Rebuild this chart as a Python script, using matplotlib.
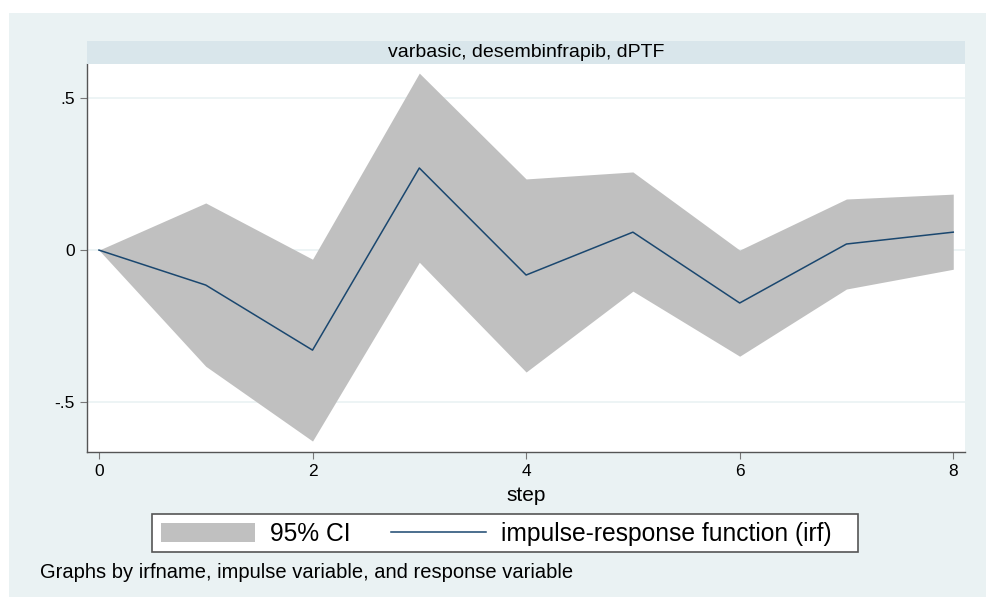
import matplotlib.pyplot as plt
from matplotlib.patches import Rectangle
from matplotlib.lines import Line2D
from matplotlib.patches import Patch

plt.rcParams['font.family'] = ['Liberation Sans', 'DejaVu Sans']

# IRF values
steps = [0, 1, 2, 3, 4, 5, 6, 7, 8]
irf = [0.0, -0.115, -0.329, 0.270, -0.082, 0.059, -0.174, 0.020, 0.059]
upper = [0.0, 0.155, -0.030, 0.582, 0.234, 0.257, 0.0, 0.168, 0.184]
lower = [0.0, -0.382, -0.628, -0.040, -0.401, -0.135, -0.349, -0.128, -0.063]

yticks = [-0.5, 0, 0.5]
ytick_labels = ['-.5', '0', '.5']
xticks = [0, 2, 4, 6, 8]

W, H = 986, 597
fig = plt.figure(figsize=(W / 100, H / 100), dpi=100)
fig.patch.set_facecolor('white')

# outer Stata-style background
fig.add_artist(Rectangle((9 / W, 0), (W - 9) / W, (H - 13) / H,
                         transform=fig.transFigure, facecolor='#eaf2f3',
                         edgecolor='none', zorder=0))

# plot area in pixels: left 87, right 965, top 64, bottom 452
ax = fig.add_axes([87 / W, 1 - 452 / H, (965 - 87) / W, (452 - 64) / H])
ax.set_facecolor('white')

ax.fill_between(steps, lower, upper, color='#c0c0c0', linewidth=0, zorder=2)
ax.plot(steps, irf, color='#1a476f', linewidth=1.1, zorder=3)

ax.set_xlim(-0.112, 8.11)
ax.set_ylim(-0.664, 0.612)
ax.set_yticks(yticks)
ax.set_yticklabels(ytick_labels)
ax.set_xticks(xticks)
ax.grid(axis='y', color='#eaf2f3', linewidth=1.2, zorder=1)
ax.set_axisbelow(True)

for s in ['top', 'right']:
    ax.spines[s].set_visible(False)
for s in ['left', 'bottom']:
    ax.spines[s].set_color('#555555')
    ax.spines[s].set_linewidth(1.0)
ax.tick_params(axis='both', colors='#777777', labelcolor='black',
               labelsize=12.5, length=5, direction='out')
ax.tick_params(axis='y', pad=4)
ax.tick_params(axis='x', pad=4)
ax.set_xlabel('step', fontsize=15, labelpad=5)

# title strip
fig.add_artist(Rectangle((87 / W, 1 - 64 / H), (965 - 87) / W, 23 / H,
                         transform=fig.transFigure, facecolor='#d9e6eb',
                         edgecolor='none', zorder=1))
fig.text((87 + 965) / 2 / W, 1 - 52.5 / H, 'varbasic, desembinfrapib, dPTF',
         ha='center', va='center', fontsize=14)

# legend box (drawn separately: Stata leaves extra room on the right)
fig.add_artist(Rectangle((152 / W, 1 - 552 / H), (858 - 152) / W, 38 / H,
                         transform=fig.transFigure, facecolor='white',
                         edgecolor='#555555', linewidth=1.2, zorder=1))
handles = [Patch(facecolor='#c0c0c0', edgecolor='none'),
           Line2D([], [], color='#1a476f', linewidth=1.1)]
labels = ['95% CI', 'impulse-response function (irf)']
leg = fig.legend(handles, labels, loc='center', ncol=2,
                 bbox_to_anchor=(496 / W, 1 - 534 / H), fontsize=17.7,
                 frameon=False, handlelength=3.85,
                 handleheight=0.82, handletextpad=0.6, columnspacing=1.65,
                 borderpad=0.3)
leg.set_zorder(2)

fig.text(40 / W, 1 - 572 / H,
         'Graphs by irfname, impulse variable, and response variable',
         ha='left', va='center', fontsize=14.5)

fig.savefig('out.png', dpi=100)
